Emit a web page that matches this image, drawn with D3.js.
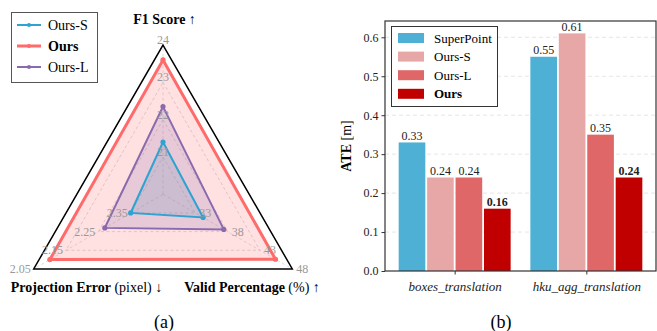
<!DOCTYPE html>
<html>
<head>
<meta charset="utf-8">
<script src="https://cdn.jsdelivr.net/npm/d3@7"></script>
<style>
  body { margin: 0; background: #fff; }
  svg { display: block; font-family: "Liberation Serif", "DejaVu Serif", serif; }
</style>
</head>
<body>
<svg id="mySvg" width="657" height="331"></svg>
<script>
// ---- radar data (a)
var radarSeries = ["Ours-S", "Ours", "Ours-L"];
var radarColors = ["#2ea3d2", "#ff6b6b", "#8a6aae"];
var f1Score = [21.4, 23.6, 22.35];
var validPct = [34.2, 45.4, 37.4];
var projErr = [2.35, 2.10, 2.27];
var f1Ticks = [21, 22, 23, 24];
var validTicks = [33, 38, 43, 48];
var projTicks = [2.35, 2.25, 2.15, 2.05];

// ---- bar data (b)
var scenes = ["boxes_translation", "hku_agg_translation"];
var methods = ["SuperPoint", "Ours-S", "Ours-L", "Ours"];
var barColors = ["#4eb0d5", "#e8a7a7", "#e06767", "#c00000"];
var superPoint = [0.33, 0.55];
var oursS = [0.24, 0.61];
var oursL = [0.24, 0.35];
var ours = [0.16, 0.24];
var yTicks = [0.0, 0.1, 0.2, 0.3, 0.4, 0.5, 0.6];

var svg = d3.select("#mySvg");

// ================= radar =================
var cx = 163, cy = 194.3, R = 149.3;
// angle of each axis (degrees, screen coords)
var axes = [
  { key: "f1", ang: -90, scale: d3.scaleLinear().domain([20, 24]).range([0, R]), ticks: f1Ticks, vals: f1Score, fmt: d3.format("d") },
  { key: "vp", ang: 30, scale: d3.scaleLinear().domain([28, 48]).range([0, R]), ticks: validTicks, vals: validPct, fmt: d3.format("d") },
  { key: "pe", ang: 150, scale: d3.scaleLinear().domain([2.45, 2.05]).range([0, R]), ticks: projTicks, vals: projErr, fmt: d3.format(".2f") }
];
function pt(a, r) {
  var t = a.ang * Math.PI / 180;
  return [cx + r * Math.cos(t), cy + r * Math.sin(t)];
}

var radar = svg.append("g");

// grid rings (dashed)
[0, 1, 2].forEach(function (k) {
  radar.append("polygon")
    .attr("points", axes.map(function (a) { return pt(a, a.scale(a.ticks[k])).join(","); }).join(" "))
    .attr("fill", "none")
    .attr("stroke", "#cfcfcf")
    .attr("stroke-width", 0.8)
    .attr("stroke-dasharray", "3,2.5");
});
// radial lines
axes.forEach(function (a) {
  var p = pt(a, R);
  radar.append("line")
    .attr("x1", cx).attr("y1", cy).attr("x2", p[0]).attr("y2", p[1])
    .attr("stroke", "#d4d4d4")
    .attr("stroke-width", 0.8)
    .attr("stroke-dasharray", "3,2.5");
});

// series: fills first, then outlines + markers on top
var seriesPts = radarSeries.map(function (name, i) {
  return axes.map(function (a) { return pt(a, a.scale(a.vals[i])); });
});
seriesPts.forEach(function (pts, i) {
  radar.append("polygon")
    .attr("points", pts.map(function (p) { return p.join(","); }).join(" "))
    .attr("fill", radarColors[i])
    .attr("fill-opacity", 0.2)
    .attr("stroke", "none");
});
seriesPts.forEach(function (pts, i) {
  radar.append("polygon")
    .attr("points", pts.map(function (p) { return p.join(","); }).join(" "))
    .attr("fill", "none")
    .attr("stroke", radarColors[i])
    .attr("stroke-width", radarSeries[i] === "Ours" ? 3 : 2);
  pts.forEach(function (p) {
    radar.append("circle")
      .attr("cx", p[0]).attr("cy", p[1]).attr("r", 2.6)
      .attr("fill", radarColors[i]);
  });
});

// outer frame
radar.append("polygon")
  .attr("points", axes.map(function (a) { return pt(a, R).join(","); }).join(" "))
  .attr("fill", "none")
  .attr("stroke", "#000")
  .attr("stroke-width", 1.5);

// tick labels
axes.forEach(function (a) {
  a.ticks.forEach(function (t) {
    var p = pt(a, a.scale(t));
    var txt = radar.append("text")
      .attr("fill", "#999")
      .attr("font-size", 12)
      .text(a.fmt(t));
    if (a.key === "f1") {
      txt.attr("x", p[0]).attr("y", p[1] - 1).attr("text-anchor", "middle");
    } else if (a.key === "pe") {
      txt.attr("x", p[0] - 3).attr("y", p[1] + 4).attr("text-anchor", "end");
    } else {
      txt.attr("x", p[0] + 4).attr("y", p[1] + 4).attr("text-anchor", "start");
    }
  });
});

// axis titles
function richLabel(g, x, y, bold, rest) {
  var t = g.append("text").attr("x", x).attr("y", y)
    .attr("text-anchor", "middle").attr("font-size", 14).attr("fill", "#000");
  t.append("tspan").attr("font-weight", "bold").text(bold);
  t.append("tspan").text(rest);
  return t;
}
richLabel(radar, 164.5, 24, "F1 Score", " \u2191");
richLabel(radar, 86.5, 292, "Projection Error", " (pixel) \u2193");
richLabel(radar, 252, 292, "Valid Percentage", " (%) \u2191");

radar.append("text")
  .attr("x", 164).attr("y", 328)
  .attr("text-anchor", "middle").attr("font-size", 18)
  .text("(a)");

// radar legend
var leg = radar.append("g");
leg.append("rect")
  .attr("x", 11.5).attr("y", 12.5).attr("width", 86).attr("height", 70)
  .attr("fill", "#fff").attr("stroke", "#555").attr("stroke-width", 1);
radarSeries.forEach(function (name, i) {
  var y = 25 + i * 21;
  leg.append("line")
    .attr("x1", 17).attr("x2", 41).attr("y1", y).attr("y2", y)
    .attr("stroke", radarColors[i])
    .attr("stroke-width", name === "Ours" ? 3 : 2);
  leg.append("circle").attr("cx", 29).attr("cy", y).attr("r", 2)
    .attr("fill", radarColors[i]);
  leg.append("text")
    .attr("x", 48).attr("y", y + 5)
    .attr("font-size", 14)
    .attr("font-weight", name === "Ours" ? "bold" : "normal")
    .text(name);
});

// ================= bars =================
var bx0 = 385, bx1 = 656, by0 = 21, by1 = 271;
var series = [superPoint, oursS, oursL, ours];

var x = d3.scaleLinear().domain([-0.529, 1.529]).range([bx0, bx1]);
var y = d3.scaleLinear().domain([0, 0.6418]).range([by1, by0]);
var step = 0.216;

var bars = svg.append("g");

// grid
bars.append("g").selectAll("line")
  .data(yTicks.filter(function (d) { return d > 0; }))
  .join("line")
  .attr("x1", bx0).attr("x2", bx1)
  .attr("y1", function (d) { return y(d); })
  .attr("y2", function (d) { return y(d); })
  .attr("stroke", "#dedede")
  .attr("stroke-width", 0.8)
  .attr("stroke-dasharray", "4,3");

// bars + labels
series.forEach(function (vals, j) {
  vals.forEach(function (v, i) {
    var xc = x(i + (j - 1.5) * step);
    var w = x(step) - x(0) - 1.8;
    bars.append("rect")
      .attr("x", xc - w / 2).attr("y", y(v))
      .attr("width", w).attr("height", y(0) - y(v))
      .attr("fill", barColors[j]);
    bars.append("text")
      .attr("x", xc).attr("y", y(v) - 2.5)
      .attr("text-anchor", "middle")
      .attr("font-size", 12)
      .attr("font-weight", methods[j] === "Ours" ? "bold" : "normal")
      .attr("fill", "#222")
      .text(d3.format(".2f")(v));
  });
});

// y axis
var yAxis = d3.axisLeft(y).tickValues(yTicks).tickFormat(d3.format(".1f")).tickSize(3.5).tickPadding(3);
bars.append("g")
  .attr("transform", "translate(" + bx0 + ",0)")
  .call(yAxis)
  .call(function (g) { g.select(".domain").remove(); })
  .call(function (g) {
    g.selectAll("text").attr("font-family", "Liberation Serif").attr("font-size", 12).attr("fill", "#222");
    g.selectAll(".tick line").attr("stroke", "#333");
  });

// x axis
var xAxis = d3.axisBottom(x).tickValues([0, 1]).tickFormat(function (d) { return scenes[d]; }).tickSize(3.5).tickPadding(5);
bars.append("g")
  .attr("transform", "translate(0," + by1 + ")")
  .call(xAxis)
  .call(function (g) { g.select(".domain").remove(); })
  .call(function (g) {
    g.selectAll("text").attr("font-family", "Liberation Serif").attr("font-size", 13)
      .attr("font-style", "italic").attr("fill", "#222").attr("dy", "0.9em");
    g.selectAll(".tick line").attr("stroke", "#333");
  });

// frame
bars.append("rect")
  .attr("x", bx0).attr("y", by0).attr("width", bx1 - bx0).attr("height", by1 - by0)
  .attr("fill", "none").attr("stroke", "#333").attr("stroke-width", 1.2);

// y label
var yl = bars.append("text")
  .attr("transform", "translate(351," + ((by0 + by1) / 2) + ") rotate(-90)")
  .attr("text-anchor", "middle").attr("font-size", 14);
yl.append("tspan").attr("font-weight", "bold").text("ATE");
yl.append("tspan").text(" [m]");

// bar legend
var bl = bars.append("g");
bl.append("rect")
  .attr("x", 391.5).attr("y", 26.5).attr("width", 106).attr("height", 80)
  .attr("fill", "#fff").attr("stroke", "#333").attr("stroke-width", 1);
methods.forEach(function (m, j) {
  var yy = 38 + j * 18.6;
  bl.append("rect")
    .attr("x", 398).attr("y", yy - 5).attr("width", 26).attr("height", 10)
    .attr("fill", barColors[j]);
  bl.append("text")
    .attr("x", 434).attr("y", yy + 4.5)
    .attr("font-size", 13)
    .attr("font-weight", m === "Ours" ? "bold" : "normal")
    .text(m);
});

svg.append("text")
  .attr("x", 501).attr("y", 328)
  .attr("text-anchor", "middle").attr("font-size", 18)
  .text("(b)");
</script>
</body>
</html>
